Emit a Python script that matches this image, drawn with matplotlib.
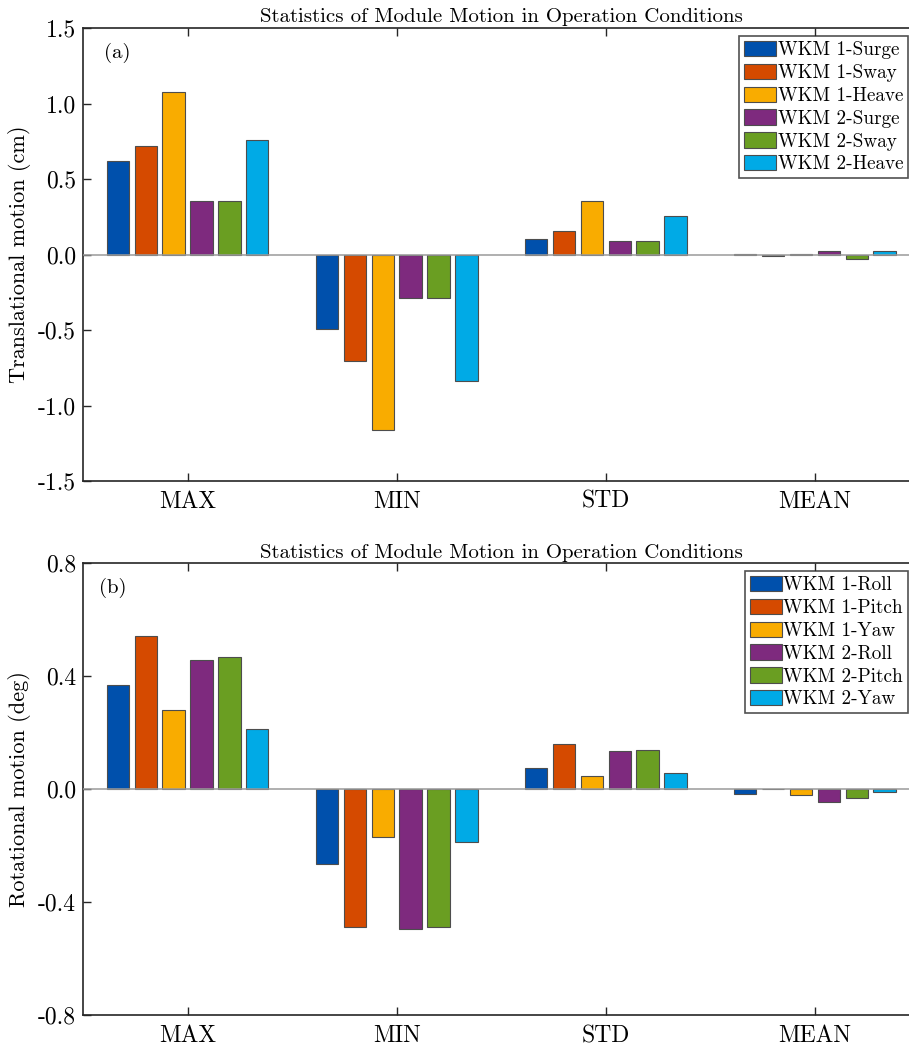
import numpy as np
import matplotlib
matplotlib.use("Agg")
import matplotlib.pyplot as plt

# data
stats = ["MAX", "MIN", "STD", "MEAN"]

trans_labels = ["WKM 1-Surge", "WKM 1-Sway", "WKM 1-Heave",
                "WKM 2-Surge", "WKM 2-Sway", "WKM 2-Heave"]
trans_max = [0.622, 0.720, 1.075, 0.353, 0.355, 0.759]
trans_min = [-0.494, -0.706, -1.161, -0.285, -0.285, -0.839]
trans_std = [0.102, 0.157, 0.351, 0.091, 0.091, 0.252]
trans_mean = [0.004, -0.011, 0.002, 0.022, -0.031, 0.022]

rot_labels = ["WKM 1-Roll", "WKM 1-Pitch", "WKM 1-Yaw",
              "WKM 2-Roll", "WKM 2-Pitch", "WKM 2-Yaw"]
rot_max = [0.368, 0.542, 0.281, 0.459, 0.469, 0.213]
rot_min = [-0.265, -0.488, -0.169, -0.493, -0.488, -0.186]
rot_std = [0.076, 0.160, 0.047, 0.135, 0.138, 0.059]
rot_mean = [-0.015, 0.001, -0.021, -0.046, -0.032, -0.011]

trans_ticks = [-1.5, -1.0, -0.5, 0.0, 0.5, 1.0, 1.5]
trans_ticklabels = ["-1.5", "-1.0", "-0.5", "0.0", "0.5", "1.0", "1.5"]
rot_ticks = [-0.8, -0.4, 0.0, 0.4, 0.8]
rot_ticklabels = ["-0.8", "-0.4", "0.0", "0.4", "0.8"]

colors = ["#0050ac", "#d54a00", "#f9ac00", "#7e2a7e", "#6a9e22", "#00aae6"]

plt.rcParams["font.family"] = ["cmr10", "DejaVu Serif"]
plt.rcParams["axes.unicode_minus"] = False

W, H = 909, 1051
fig = plt.figure(figsize=(W / 100, H / 100), dpi=100)
fig.set_facecolor("white")


def panel(rect, series, labels, ticks, ticklabels, ylim, ylabel, tag, tagx, leg_top):
    ax = fig.add_axes(rect)
    data = np.array(series).T  # rows: series, cols: stats
    n = data.shape[0]
    slot = 0.8 / n
    x = np.arange(1, len(stats) + 1)
    for i in range(n):
        ax.bar(x + (i - (n - 1) / 2) * slot, data[i], width=slot * 0.8,
               color=colors[i], edgecolor="#4d4d4d", linewidth=0.8,
               label=labels[i], zorder=2)
    ax.axhline(0, color="#9a9a9a", linewidth=1.1, zorder=3)
    ax.set_xlim(0.5, 4.5)
    ax.set_ylim(*ylim)
    ax.set_xticks(x)
    ax.set_xticklabels(stats, fontsize=17)
    ax.set_yticks(ticks)
    ax.set_yticklabels(ticklabels, fontsize=17)
    ax.tick_params(direction="in", length=6, width=1.0, color="#262626",
                   top=True, right=True, pad=7)
    ax.tick_params(axis="y", pad=5)
    for s in ax.spines.values():
        s.set_color("#262626")
        s.set_linewidth(1.2)
    ax.set_ylabel(ylabel, fontsize=16)
    ax.set_title("Statistics of Module Motion in Operation Conditions",
                 fontsize=15, pad=4)
    ax.text(tagx, 0.946, tag, transform=ax.transAxes, fontsize=15,
            ha="left", va="center")
    leg = ax.legend(loc="upper right", bbox_to_anchor=(908 / W, leg_top),
                    bbox_transform=fig.transFigure, fontsize=13.8,
                    frameon=True, fancybox=False, handlelength=1.65,
                    handleheight=0.85, handletextpad=0.1, labelspacing=0.24,
                    borderpad=0.25, borderaxespad=0)
    leg.get_frame().set_edgecolor("#262626")
    leg.get_frame().set_linewidth(1.2)
    return ax


left = 83 / W
width = 836.5 / W

ax1 = panel([left, 1 - 481 / H, width, 453 / H],
            [trans_max, trans_min, trans_std, trans_mean],
            trans_labels, trans_ticks, trans_ticklabels, (-1.5, 1.5),
            "Translational motion (cm)", "(a)", 0.025, 1 - 36 / H)
ax2 = panel([left, 1 - 1015.3 / H, width, 452 / H],
            [rot_max, rot_min, rot_std, rot_mean],
            rot_labels, rot_ticks, rot_ticklabels, (-0.8, 0.8),
            "Rotational motion (deg)", "(b)", 0.019, 1 - 571 / H)

for ax in (ax1, ax2):
    ax.yaxis.set_label_coords(-0.062, 0.5)

fig.savefig("out.png", dpi=100)
